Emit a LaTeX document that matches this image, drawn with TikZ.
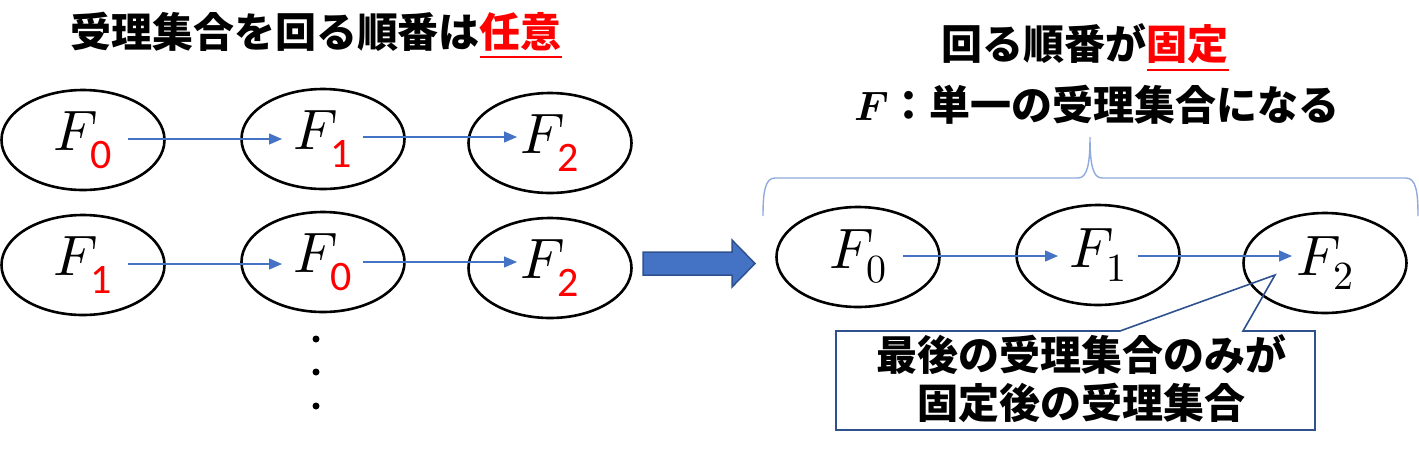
\documentclass[tikz,border=0pt]{standalone}
\usepackage{fontspec}
\usepackage{unicode-math}
\newfontfamily\jp{Noto Sans CJK JP}
\newfontfamily\carl{Carlito}
\usetikzlibrary{shapes.geometric,calc,arrows.meta}
\definecolor{pblue}{HTML}{4472C4}
\definecolor{dblue}{HTML}{2F528F}
\definecolor{lblue}{HTML}{8FAADC}
\newcommand{\myRedIdx}[1]{\hbox{\lower4pt\hbox{\carl\fontsize{42}{46}\selectfont\color{red}#1}}}
\begin{document}
\begin{tikzpicture}[x=1pt,y=-1pt,
  fset/.style={ellipse, draw=black, line width=2.6pt, minimum width=163pt, minimum height=100pt, inner sep=0pt, font=\fontsize{57}{64}\selectfont},
  link/.style={draw=pblue, line width=1.3pt, -{Triangle[length=13pt,width=11pt]}},
  jptext/.style={font=\jp\bfseries\fontsize{41}{48}\selectfont, inner sep=0pt, align=center},
  vdot/.style={fill=black}]
\useasboundingbox (0,0) rectangle (1419,456);

% titles
\node[jptext] (t1) at (316,36) {受理集合を回る順番は\textcolor{red}{\underline{任意}}};
\node[jptext] (t2) at (1085,48) {回る順番が\textcolor{red}{\underline{固定}}};
\node[jptext] (t3) at (1097,105) {$\symbfit{F}$：単一の受理集合になる};

% left rows
\node[fset] (a0) at (83,140) {$F_{\myRedIdx{0}}$};
\node[fset] (a1) at (323,139) {$F_{\myRedIdx{1}}$};
\node[fset] (a2) at (550,143) {$F_{\myRedIdx{2}}$};
\node[fset] (b0) at (83,265) {$F_{\myRedIdx{1}}$};
\node[fset] (b1) at (323,262) {$F_{\myRedIdx{0}}$};
\node[fset] (b2) at (550,268) {$F_{\myRedIdx{2}}$};

\draw[link] ($(a0.center)+(45,-1)$) -- ($(a1.center)+(-41,0)$);
\draw[link] ($(a1.center)+(40,-2)$) -- ($(a2.center)+(-33,-6)$);
\draw[link] ($(b0.center)+(45,-1)$) -- ($(b1.center)+(-41,2)$);
\draw[link] ($(b1.center)+(40,0)$) -- ($(b2.center)+(-33,-6)$);

% vertical dots
\fill[vdot] (316,339) circle (3.5);
\fill[vdot] (316,372) circle (3.5);
\fill[vdot] (316,406) circle (3.5);

% big arrow
\filldraw[fill=pblue, draw=dblue, line width=1.5pt]
  (643,252) -- (732,252) -- (732,240) -- (755,263.5) -- (732,287) -- (732,275) -- (643,275) -- cycle;

% right row
\node[fset] (c0) at (858,257) {$F_0$};
\node[fset] (c1) at (1098,255) {$F_1$};
\node[fset] (c2) at (1325,263) {$F_2$};
\draw[link] ($(c0.center)+(45,-1)$) -- ($(c1.center)+(-40,1)$);
\draw[link] ($(c1.center)+(40,1)$) -- ($(c2.center)+(-33,-7)$);

% brace
\draw[lblue, line width=1.4pt]
  (763,216) .. controls (763,192) and (765,178) .. (775,178) -- (1078,178)
  .. controls (1087,178) and (1090,165) .. (1090,137)
  .. controls (1090,165) and (1093,178) .. (1102,178) -- (1406,178)
  .. controls (1416,178) and (1418,192) .. (1418,216);

% callout
\coordinate (tip) at (1275,275);
\draw[dblue, line width=1.6pt]
  (836,331) -- (1120,331) -- (tip) -- (1243,331) -- (1315,331) -- (1315,430) -- (836,430) -- cycle;
\node[jptext] (ct) at (1081,379) {最後の受理集合のみが\\固定後の受理集合};
\end{tikzpicture}
\end{document}
